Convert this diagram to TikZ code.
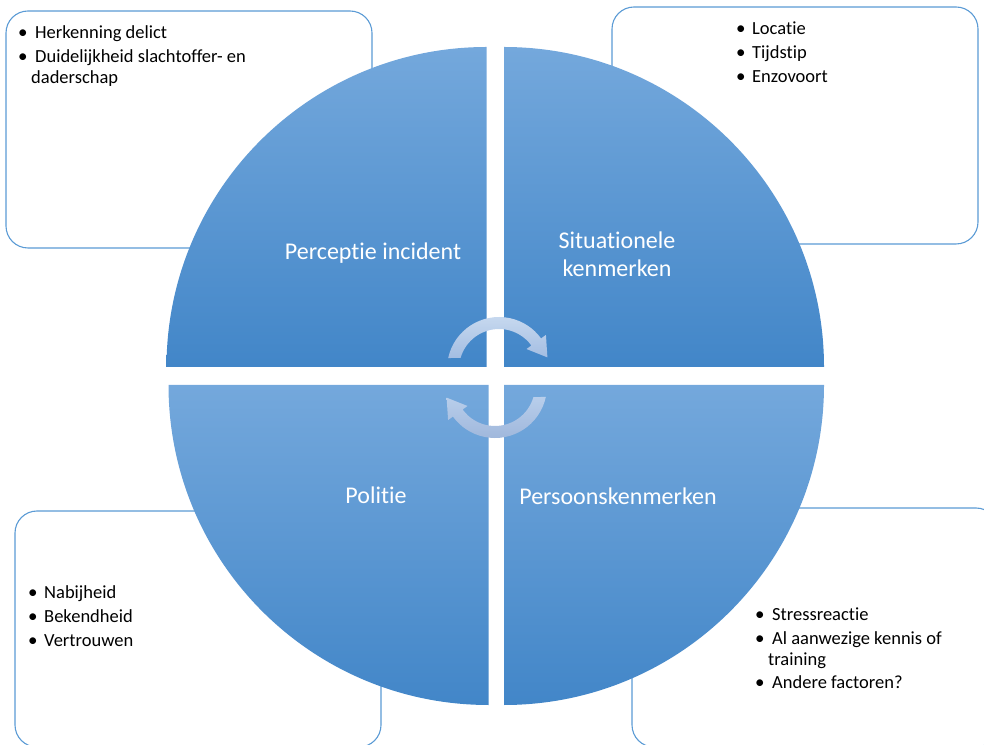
\documentclass[tikz,border=0pt]{standalone}
\usepackage{fontspec}
\setmainfont[Ligatures=NoCommon]{Carlito}
\definecolor{boxblue}{HTML}{5B9BD5}
\definecolor{qtop}{HTML}{74A8DC}
\definecolor{qmid}{HTML}{5A9CDA}
\definecolor{qbot}{HTML}{4286C8}
\definecolor{atop}{HTML}{CADBF0}
\definecolor{abot}{HTML}{A3BDE2}
\definecolor{btop}{HTML}{B8CEEB}
\definecolor{bbot}{HTML}{9DB5DA}
\begin{document}
\begin{tikzpicture}[x=1pt,y=1pt,
  box/.style={draw=boxblue, line width=1.1pt, fill=white, rounded corners=22pt},
  quad/.style={top color=qtop, middle color=qmid, bottom color=qbot},
  lbl/.style={text=white, font=\fontsize{24}{28}\selectfont, anchor=base, inner sep=0pt},
  btxt/.style={text=black, font=\fontsize{18.5}{22}\selectfont, anchor=base west, inner sep=0pt},
  bul/.style={text=black, font=\fontsize{19}{22}\selectfont, anchor=base west, inner sep=0pt}]
\useasboundingbox (0,0) rectangle (984,744);
% background boxes
\draw[box] (6,496) rectangle (372,733);
\draw[box] (612,500) rectangle (978,737);
\draw[box] (15,-3) rectangle (381,233);
\draw[box] (632,-3) rectangle (998,236);
% quadrants
\shade[quad] (486.5,377) -- (166.5,377) arc[start angle=180,end angle=90,radius=320] -- cycle;
\shade[quad] (504,377) -- (504,697) arc[start angle=90,end angle=0,radius=320] -- cycle;
\shade[quad] (488.5,359) -- (168.5,359) arc[start angle=180,end angle=270,radius=320] -- cycle;
\shade[quad] (504,359) -- (824,359) arc[start angle=0,end angle=-90,radius=320] -- cycle;
% circular arrows
\coordinate (C1) at (499,375);
\coordinate (C2) at (495,358);
\shade[top color=atop, bottom color=abot]
  ([shift={(167.8:52)}]C1) arc[start angle=167.8,end angle=36,radius=52]
  -- ([shift={(36:58)}]C1) -- ([shift={(48.4,11.6)}]C1) -- ([shift={(36:34)}]C1)
  -- ([shift={(36:40)}]C1) arc[start angle=36,end angle=164,radius=40] -- cycle;
\shade[top color=btop, bottom color=bbot]
  ([shift={(347.8:52)}]C2) arc[start angle=347.8,end angle=216,radius=52]
  -- ([shift={(216:58)}]C2) -- ([shift={(-48.4,-11.6)}]C2) -- ([shift={(216:34)}]C2)
  -- ([shift={(216:40)}]C2) arc[start angle=216,end angle=344,radius=40] -- cycle;
% quadrant labels
\node[lbl] (l1) at (373,484) {Perceptie incident};
\node[lbl] (l2a) at (617,495) {Situationele};
\node[lbl] (l2b) at (617,467) {kenmerken};
\node[lbl] (l3) at (376,240) {Politie};
\node[lbl] (l4) at (618,239) {Persoonskenmerken};
% top-left box text
\node[bul] (b11) at (18,705) {•};
\node[btxt] (t11) at (35,705) {Herkenning delict};
\node[bul] (b12) at (18,681) {•};
\node[btxt] (t12) at (35,681) {Duidelijkheid slachtoffer- en};
\node[btxt] (t13) at (31,660) {daderschap};
% top-right box text
\node[bul] (b21) at (736,709) {•};
\node[btxt] (t21) at (752,709) {Locatie};
\node[bul] (b22) at (736,685) {•};
\node[btxt] (t22) at (752,685) {Tijdstip};
\node[bul] (b23) at (736,661) {•};
\node[btxt] (t23) at (752,661) {Enzovoort};
% bottom-left box text
\node[bul] (b31) at (28,146) {•};
\node[btxt] (t31) at (44,146) {Nabijheid};
\node[bul] (b32) at (28,122) {•};
\node[btxt] (t32) at (44,122) {Bekendheid};
\node[bul] (b33) at (28,98) {•};
\node[btxt] (t33) at (44,98) {Vertrouwen};
% bottom-right box text
\node[bul] (b41) at (755,124) {•};
\node[btxt] (t41) at (772,124) {Stressreactie};
\node[bul] (b42) at (755,100) {•};
\node[btxt] (t42) at (772,100) {Al aanwezige kennis of};
\node[btxt] (t43) at (768,79) {training};
\node[bul] (b44) at (755,56) {•};
\node[btxt] (t44) at (772,56) {Andere factoren?};
\end{tikzpicture}
\end{document}
